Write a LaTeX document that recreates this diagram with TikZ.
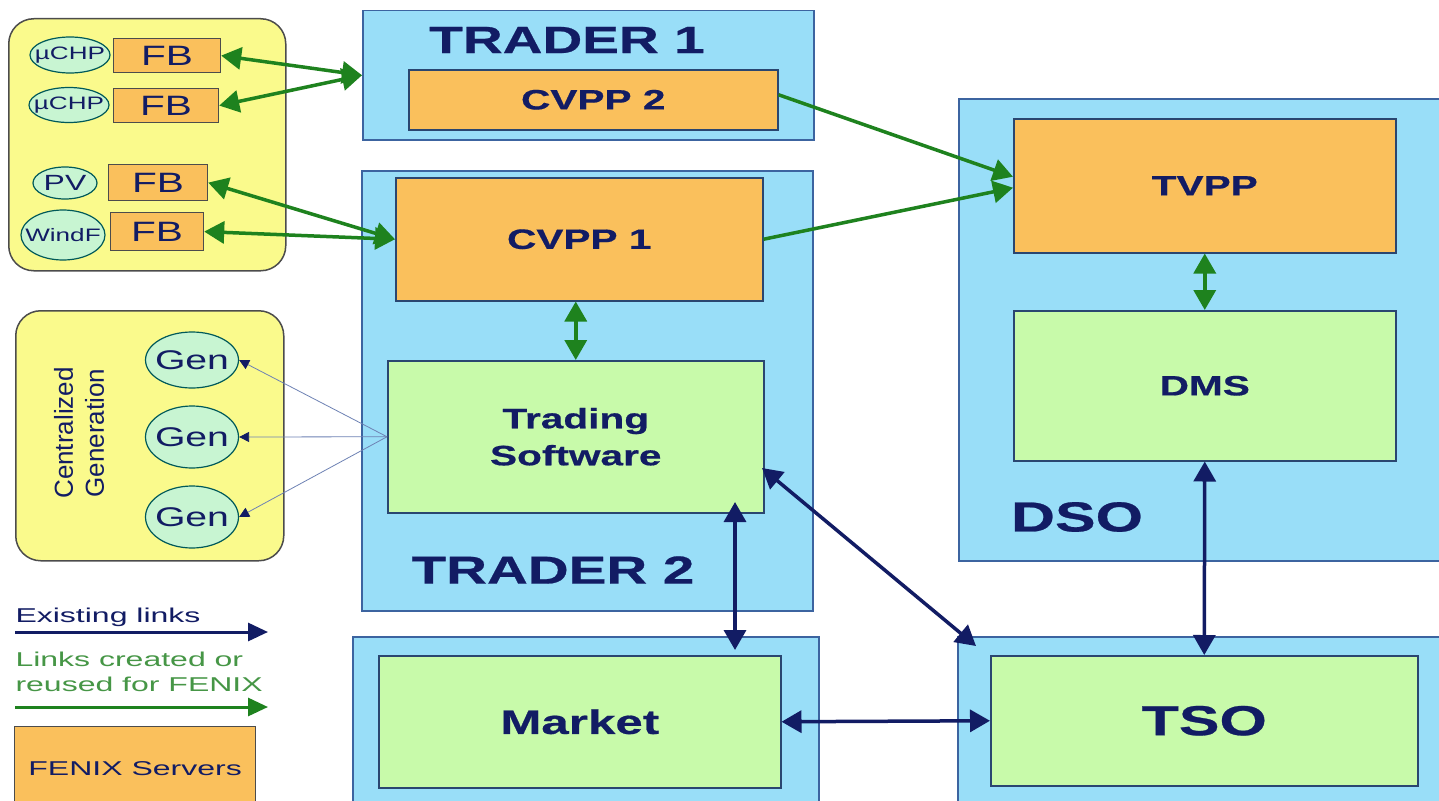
\documentclass[tikz,border=0pt]{standalone}
\usepackage{fontspec}
\setmainfont{Liberation Sans}
\newfontfamily\wfont[FakeStretch=1.45, BoldFeatures={FakeBold=0.6}]{Liberation Sans}
\newfontfamily\lfont[FakeStretch=1.6]{Liberation Sans}
\usetikzlibrary{arrows.meta,shapes.geometric,calc}
\definecolor{bluefill}{RGB}{153,222,248}
\definecolor{blueline}{RGB}{60,100,160}
\definecolor{orangefill}{RGB}{250,192,92}
\definecolor{greenfill}{RGB}{200,250,170}
\definecolor{yellowfill}{RGB}{250,250,140}
\definecolor{mintfill}{RGB}{200,245,210}
\definecolor{navy}{RGB}{18,28,100}
\definecolor{darrow}{RGB}{30,130,30}
\definecolor{legendgreen}{RGB}{70,150,70}
\definecolor{thinline}{RGB}{110,130,180}
\tikzset{
  bluebox/.style={draw=blueline, fill=bluefill, line width=1.5pt, anchor=north west, inner sep=0pt},
  orangebox/.style={draw=blueline!70!black, fill=orangefill, line width=1.5pt, anchor=north west, inner sep=0pt, text=navy},
  greenbox/.style={draw=blueline!70!black, fill=greenfill, line width=1.5pt, anchor=north west, inner sep=0pt, text=navy},
  yelbox/.style={draw=black!70, fill=yellowfill, line width=1.5pt, rounded corners=25pt, anchor=north west, inner sep=0pt},
  src/.style={ellipse, draw=teal!70!black, fill=mintfill, line width=1.2pt, inner sep=0pt},
  fbbox/.style={draw=black!70, fill=orangefill, line width=1.2pt, anchor=north west, inner sep=0pt, text=navy},
  boldtxt/.style={font=\wfont\bfseries\fontsize{28}{37}\selectfont, align=center},
  bigtxt/.style={font=\wfont\bfseries\fontsize{42}{44}\selectfont, text=navy},
  fbtxt/.style={font=\wfont\fontsize{28}{30}\selectfont},
  srctxt/.style={font=\wfont\fontsize{18}{20}\selectfont, text=navy, inner sep=0pt},
  gentxt/.style={font=\wfont\fontsize{27}{29}\selectfont, text=navy, inner sep=0pt},
  garrow/.style={draw=darrow, line width=3.5pt, {Triangle[length=20pt,width=22pt]}-{Triangle[length=20pt,width=22pt]}},
  garrowone/.style={draw=darrow, line width=3.5pt, -{Triangle[length=20pt,width=22pt]}},
  narrow/.style={draw=navy, line width=3.5pt, {Triangle[length=20pt,width=22pt]}-{Triangle[length=20pt,width=22pt]}},
  thinarrow/.style={draw=thinline, line width=0.8pt, -{Triangle[length=10pt,width=10pt,color=navy]}},
}
\begin{document}
\begin{tikzpicture}[x=1pt,y=-1pt]
\useasboundingbox (0,0) rectangle (1439,800);
\fill[white] (0,0) rectangle (1439,800);

% top-left distributed sources
\node[yelbox, minimum width=277pt, minimum height=252pt] (yel1) at (8,18) {};
\node[fbbox, minimum width=107pt, minimum height=34pt, fbtxt] (fb1) at (113,38) {FB};
\node[fbbox, minimum width=105pt, minimum height=34pt, fbtxt] (fb2) at (113,88) {FB};
\node[fbbox, minimum width=99pt, minimum height=36pt, fbtxt] (fb3) at (108,164) {FB};
\node[fbbox, minimum width=93pt, minimum height=38pt, fbtxt] (fb4) at (110,212) {FB};
\node[src, minimum width=80pt, minimum height=36pt, label={[srctxt]center:µCHP}] (e1) at (70,55) {};
\node[src, minimum width=80pt, minimum height=35pt, label={[srctxt]center:µCHP}] (e2) at (69,105) {};
\node[src, minimum width=64pt, minimum height=32pt, label={[srctxt, font=\wfont\fontsize{22}{24}\selectfont]center:PV}] (e3) at (65,183) {};
\node[src, minimum width=84pt, minimum height=50pt, label={[srctxt]center:WindF}] (e4) at (63,235) {};

% trader 1
\node[bluebox, minimum width=451pt, minimum height=129pt] (t1) at (362,10) {};
\node[bigtxt, font=\wfont\bfseries\fontsize{38}{40}\selectfont] (t1lab) at (567,40) {TRADER 1};
\node[orangebox, minimum width=369pt, minimum height=60pt, boldtxt] (cvpp2) at (408,69) {CVPP 2};

% trader 2
\node[bluebox, minimum width=451pt, minimum height=440pt] (t2) at (361,170) {};
\node[orangebox, minimum width=367pt, minimum height=123pt, boldtxt] (cvpp1) at (395,177) {CVPP 1};
\node[greenbox, minimum width=376pt, minimum height=152pt, boldtxt] (trade) at (387,360) {Trading\\Software};
\node[bigtxt, font=\wfont\bfseries\fontsize{39}{41}\selectfont] (t2lab) at (553,570) {TRADER 2};

% centralized generation
\node[yelbox, minimum width=268pt, minimum height=250pt] (yel2) at (15,310) {};
\node[src, minimum width=93pt, minimum height=56pt, label={[gentxt]center:Gen}] (g1) at (192,360) {};
\node[src, minimum width=93pt, minimum height=62pt, label={[gentxt]center:Gen}] (g2) at (192,437) {};
\node[src, minimum width=93pt, minimum height=62pt, label={[gentxt]center:Gen}] (g3) at (192,517) {};
\node[rotate=90, align=center, font=\fontsize{26}{31}\selectfont, text=navy] (cg) at (79,433) {Centralized\\Generation};

% DSO
\node[bluebox, minimum width=490pt, minimum height=462pt] (dso) at (958,98) {};
\node[orangebox, minimum width=382pt, minimum height=134pt, boldtxt] (tvpp) at (1013,118) {TVPP};
\node[greenbox, minimum width=382pt, minimum height=150pt, boldtxt] (dms) at (1013,310) {DMS};
\node[bigtxt] (dsolab) at (1077,517) {DSO};

% Market
\node[bluebox, minimum width=466pt, minimum height=180pt] (mkt) at (352,636) {};
\node[greenbox, minimum width=402pt, minimum height=132pt, font=\wfont\bfseries\fontsize{34}{36}\selectfont] (mktin) at (378,655) {Market};

% TSO
\node[bluebox, minimum width=490pt, minimum height=180pt] (tso) at (957,636) {};
\node[greenbox, minimum width=427pt, minimum height=130pt, font=\wfont\bfseries\fontsize{42}{44}\selectfont] (tsoin) at (990,655) {TSO};

% legend
\node[anchor=west, text=navy, font=\lfont\fontsize{20}{22}\selectfont] (lg1) at (12,617) {Existing links};
\coordinate (lg1a) at (15,632);
\coordinate (lg1b) at (268,632);
\node[anchor=north west, text=legendgreen, align=left, font=\lfont\fontsize{20}{25}\selectfont] (lg2) at (12,648) {Links created or\\reused for FENIX};
\coordinate (lg2a) at (15,707);
\coordinate (lg2b) at (268,707);
\node[fbbox, minimum width=241pt, minimum height=85pt, font=\lfont\fontsize{20}{22}\selectfont] (lg3) at (14,726) {FENIX Servers};

% green links
\draw[garrow] (fb1.east) -- (t1.west);
\draw[garrow] (fb2.east) -- (t1.west);
\draw[garrow] (fb3.east) -- (cvpp1.west);
\draw[garrow] (fb4.east) -- (cvpp1.west);
\draw[garrowone] ([yshift=5pt]cvpp2.east) -- ([yshift=9pt]tvpp.west);
\draw[garrowone] (cvpp1.east) -- ([yshift=-2pt]tvpp.west);
\draw[garrow] (cvpp1.south -| trade.north) -- (trade.north);
\draw[garrow] (tvpp.south) -- (dms.north);

% navy links
\coordinate (tsb) at (735,502);
\coordinate (mkt1) at (735,650);
\draw[narrow] (tsb) -- (mkt1);
\coordinate (tse) at (762,468);
\coordinate (tso1) at (976,646);
\draw[narrow] (tse) -- (tso1);
\draw[narrow] (dms.south) -- (tsoin.north);
\draw[narrow] (mktin.east) -- (tsoin.west);

% thin links to generators
\draw[thinarrow] (trade.west) -- (g1.east);
\draw[thinarrow] (trade.west) -- (g2.east);
\draw[thinarrow] (trade.west) -- (g3.east);

% legend arrows
\draw[draw=navy, line width=3pt, -{Triangle[length=20pt,width=18pt]}] (lg1a) -- (lg1b);
\draw[draw=darrow, line width=3pt, -{Triangle[length=20pt,width=18pt]}] (lg2a) -- (lg2b);
\end{tikzpicture}
\end{document}
